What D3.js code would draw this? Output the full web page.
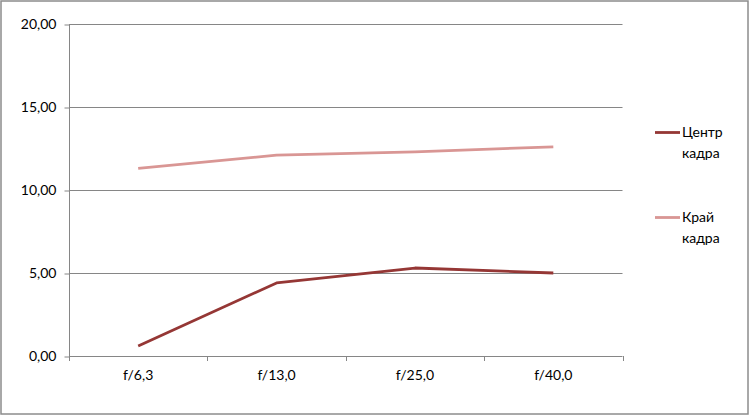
<!DOCTYPE html>
<html><head><meta charset="utf-8">
<script src="https://cdn.jsdelivr.net/npm/d3@7"></script>
<style>body{margin:0;background:#fff}svg{display:block}text{font-family:Lato,"Open Sans",sans-serif;fill:#000}</style>
</head><body><svg id="c" width="750" height="416"></svg>
<script>
const categories = ["f/6,3","f/13,0","f/25,0","f/40,0"];
const centerValues = [0.6, 4.4, 5.3, 5.0];
const edgeValues = [11.3, 12.1, 12.3, 12.6];
const seriesNames = [["Центр","кадра"],["Край","кадра"]];
const yTicks = [0,5,10,15,20];

const svg = d3.select("#c");
svg.append("rect").attr("x",1).attr("y",1).attr("width",747).attr("height",413)
  .attr("fill","#fff").attr("stroke","#8c8c8c").attr("stroke-width",1.5);

const L=69, R=622.5, T=24, B=356;
const x = d3.scaleBand().domain(categories).range([L,R]);
const y = d3.scaleLinear().domain([0,20]).range([B,T]);
const fmt = d => d3.format(".2f")(d).replace(".",",");

svg.append("g").selectAll("line").data(yTicks.slice(1)).join("line")
  .attr("x1",L).attr("x2",R).attr("y1",d=>y(d)+0.5).attr("y2",d=>y(d)+0.5)
  .attr("stroke","#868686");

const ya = svg.append("g").attr("transform",`translate(${L+0.5},0)`)
  .call(d3.axisLeft(y).tickValues(yTicks).tickSize(5).tickPadding(8).tickFormat(fmt));
ya.select(".domain").attr("stroke","#868686").attr("d",`M0,${T}V${B}`);
ya.selectAll(".tick line").attr("stroke","#868686").attr("transform","translate(0,0.5)");
ya.selectAll("text").style("font-size","14px").attr("fill","#000");

const xa = svg.append("g").attr("transform",`translate(0,${B+0.5})`)
  .call(d3.axisBottom(x).tickSize(0).tickPadding(14));
xa.select(".domain").attr("stroke","#868686").attr("d",`M${L},0H${R}`);
xa.selectAll("text").style("font-size","14px").attr("fill","#000");
svg.append("g").selectAll("line").data(categories.map(c=>x(c)).concat([R])).join("line")
  .attr("x1",d=>Math.round(d)+0.5).attr("x2",d=>Math.round(d)+0.5).attr("y1",B).attr("y2",B+5)
  .attr("stroke","#868686");

const cx = c => x(c)+x.bandwidth()/2;
const line = d3.line().x((d,i)=>cx(categories[i])).y(d=>y(d));
const colors = ["#953735","#D99694"];
[centerValues, edgeValues].forEach((vals,k)=>{
  svg.append("path").attr("d",line(vals)).attr("fill","none")
    .attr("stroke",colors[k]).attr("stroke-width",2.8).attr("stroke-linejoin","round");
});

const legY = [132.5, 217.5];
seriesNames.forEach((nm,k)=>{
  const g = svg.append("g");
  g.append("line").attr("x1",655).attr("x2",680).attr("y1",legY[k]).attr("y2",legY[k])
    .attr("stroke",colors[k]).attr("stroke-width",2.8);
  g.append("text").attr("x",682).attr("y",legY[k]+4.5).style("font-size","14px").text(nm[0]);
  g.append("text").attr("x",682).attr("y",legY[k]+25).style("font-size","14px").text(nm[1]);
});
</script></body></html>
